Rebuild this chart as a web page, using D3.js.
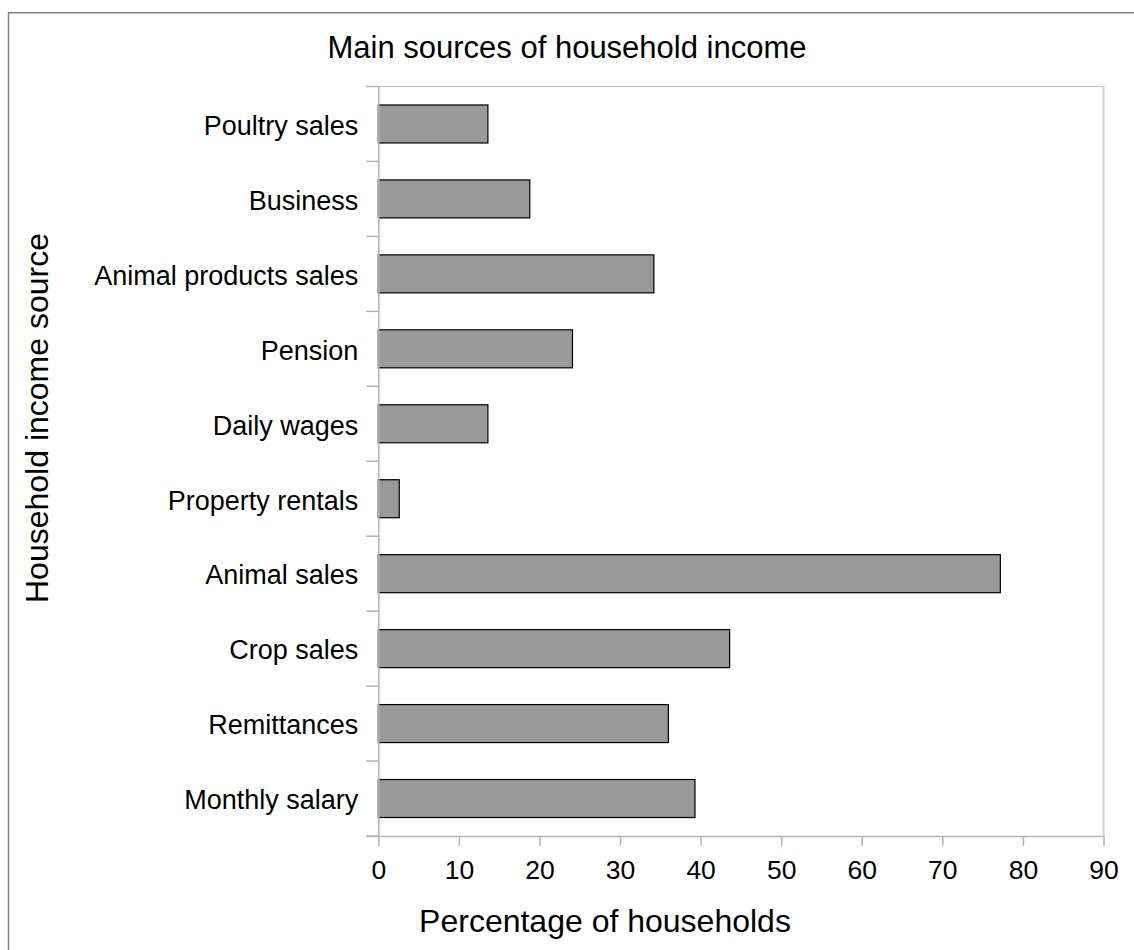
<!DOCTYPE html>
<html>
<head>
<meta charset="utf-8">
<script src="https://cdn.jsdelivr.net/npm/d3@7"></script>
<style>
  html, body { margin: 0; padding: 0; background: #fff; }
  svg { display: block; }
  text { font-family: "Liberation Sans", Arial, sans-serif; fill: #000; }
</style>
</head>
<body>
<svg id="chart" width="1134" height="950"></svg>
<script>
// Income sources, listed top to bottom
const categories = [
  "Poultry sales",
  "Business",
  "Animal products sales",
  "Pension",
  "Daily wages",
  "Property rentals",
  "Animal sales",
  "Crop sales",
  "Remittances",
  "Monthly salary"
];
// Percentage of households reporting each source
const values = [13.6, 18.8, 34.2, 24.1, 13.6, 2.6, 77.2, 43.6, 36.0, 39.3];
const xTicks = [0, 10, 20, 30, 40, 50, 60, 70, 80, 90];

const titleText = "Main sources of household income";
const xTitle = "Percentage of households";
const yTitle = "Household income source";

const svg = d3.select("#chart");
const W = 1134, H = 950;
const plot = { left: 378.3, right: 1103.5, top: 86.5, bottom: 836 };

// outer frame
svg.append("rect")
  .attr("x", 8.5).attr("y", 12.75)
  .attr("width", W + 20).attr("height", H + 20)
  .attr("fill", "#fff")
  .attr("stroke", "#808080")
  .attr("stroke-width", 1.5);

const x = d3.scaleLinear().domain([0, 90]).range([plot.left, plot.right]);
const y = d3.scaleBand().domain(categories)
  .range([plot.top, plot.bottom])
  .paddingInner(0.493)
  .paddingOuter(0.2465);

// plot frame: top and right edges
svg.append("line")
  .attr("x1", plot.left - 12).attr("x2", plot.right)
  .attr("y1", plot.top).attr("y2", plot.top)
  .attr("stroke", "#c0c0c0").attr("stroke-width", 1.2);
svg.append("line")
  .attr("x1", plot.right).attr("x2", plot.right)
  .attr("y1", plot.top).attr("y2", plot.bottom)
  .attr("stroke", "#d4d4d4").attr("stroke-width", 2);

// bars
svg.append("g").selectAll("rect")
  .data(categories)
  .join("rect")
  .attr("x", x(0))
  .attr("y", d => y(d))
  .attr("width", (d, i) => x(values[i]) - x(0))
  .attr("height", y.bandwidth())
  .attr("fill", "#999999")
  .attr("stroke", "#000")
  .attr("stroke-width", 1.2);

// x axis
const xAxis = svg.append("g")
  .attr("transform", `translate(0,${plot.bottom})`)
  .call(d3.axisBottom(x).tickValues(xTicks).tickSize(10).tickPadding(14).tickSizeOuter(0));
xAxis.select(".domain").attr("stroke", "#b4b4b4").attr("stroke-width", 1.5)
  .attr("d", `M${plot.left - 12},0.5H${plot.right}`);
xAxis.selectAll(".tick line").attr("stroke", "#b4b4b4").attr("stroke-width", 1.5);
xAxis.selectAll(".tick text")
  .attr("font-size", 26.5)
  .attr("font-family", "Liberation Sans, Arial, sans-serif")
  .attr("fill", "#000");

// y axis: labels centred on bands, tick marks on band boundaries
const yAxis = svg.append("g")
  .attr("transform", `translate(${plot.left},0)`)
  .call(d3.axisLeft(y).tickSize(0).tickPadding(20));
yAxis.select(".domain").attr("stroke", "#b4b4b4").attr("stroke-width", 1.5);
yAxis.selectAll(".tick text")
  .attr("font-size", 27)
  .attr("dy", "0.4em")
  .attr("font-family", "Liberation Sans, Arial, sans-serif")
  .attr("fill", "#000");

const step = y.step();
const boundaries = categories.map(c => y(c) - step * y.paddingInner() / 2)
  .concat([plot.bottom]);
svg.append("g").selectAll("line")
  .data(boundaries)
  .join("line")
  .attr("x1", plot.left - 12).attr("x2", plot.left)
  .attr("y1", d => d).attr("y2", d => d)
  .attr("stroke", "#b4b4b4").attr("stroke-width", 1.5);

// titles
svg.append("text")
  .attr("x", 567).attr("y", 58)
  .attr("text-anchor", "middle")
  .attr("font-size", 31)
  .text(titleText);

svg.append("text")
  .attr("x", 605).attr("y", 932)
  .attr("text-anchor", "middle")
  .attr("font-size", 32)
  .text(xTitle);

svg.append("text")
  .attr("transform", "translate(48,418) rotate(-90)")
  .attr("text-anchor", "middle")
  .attr("font-size", 32)
  .text(yTitle);
</script>
</body>
</html>
